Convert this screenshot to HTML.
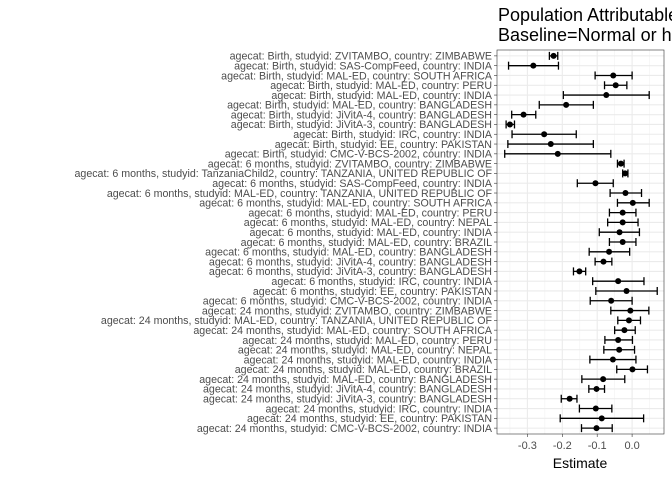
<!DOCTYPE html>
<html><head><meta charset="utf-8"><style>
html,body{margin:0;padding:0;background:#fff;}
svg{display:block;font-family:"Liberation Sans",Arial,sans-serif;}
</style></head><body>
<svg id="chart" width="672" height="480" viewBox="0 0 672 480">
<text x="498" y="21" font-size="18" fill="#000">Population Attributable Fraction</text>
<text x="498" y="41" font-size="18" fill="#000">Baseline=Normal or high birth weight</text>
<rect x="497" y="50" width="167" height="384" fill="#fff"/>
<g id="grid"></g><g id="marks"></g><g id="yaxis"></g><g id="xaxis"></g>
<rect x="497" y="50" width="167" height="384" fill="none" stroke="#333" stroke-width="0.6"/>
<text x="580" y="468" font-size="14" text-anchor="middle" fill="#000">Estimate</text>
</svg>
<script>
const labels=[
"agecat: Birth, studyid: ZVITAMBO, country: ZIMBABWE",
"agecat: Birth, studyid: SAS-CompFeed, country: INDIA",
"agecat: Birth, studyid: MAL-ED, country: SOUTH AFRICA",
"agecat: Birth, studyid: MAL-ED, country: PERU",
"agecat: Birth, studyid: MAL-ED, country: INDIA",
"agecat: Birth, studyid: MAL-ED, country: BANGLADESH",
"agecat: Birth, studyid: JiVitA-4, country: BANGLADESH",
"agecat: Birth, studyid: JiVitA-3, country: BANGLADESH",
"agecat: Birth, studyid: IRC, country: INDIA",
"agecat: Birth, studyid: EE, country: PAKISTAN",
"agecat: Birth, studyid: CMC-V-BCS-2002, country: INDIA",
"agecat: 6 months, studyid: ZVITAMBO, country: ZIMBABWE",
"agecat: 6 months, studyid: TanzaniaChild2, country: TANZANIA, UNITED REPUBLIC OF",
"agecat: 6 months, studyid: SAS-CompFeed, country: INDIA",
"agecat: 6 months, studyid: MAL-ED, country: TANZANIA, UNITED REPUBLIC OF",
"agecat: 6 months, studyid: MAL-ED, country: SOUTH AFRICA",
"agecat: 6 months, studyid: MAL-ED, country: PERU",
"agecat: 6 months, studyid: MAL-ED, country: NEPAL",
"agecat: 6 months, studyid: MAL-ED, country: INDIA",
"agecat: 6 months, studyid: MAL-ED, country: BRAZIL",
"agecat: 6 months, studyid: MAL-ED, country: BANGLADESH",
"agecat: 6 months, studyid: JiVitA-4, country: BANGLADESH",
"agecat: 6 months, studyid: JiVitA-3, country: BANGLADESH",
"agecat: 6 months, studyid: IRC, country: INDIA",
"agecat: 6 months, studyid: EE, country: PAKISTAN",
"agecat: 6 months, studyid: CMC-V-BCS-2002, country: INDIA",
"agecat: 24 months, studyid: ZVITAMBO, country: ZIMBABWE",
"agecat: 24 months, studyid: MAL-ED, country: TANZANIA, UNITED REPUBLIC OF",
"agecat: 24 months, studyid: MAL-ED, country: SOUTH AFRICA",
"agecat: 24 months, studyid: MAL-ED, country: PERU",
"agecat: 24 months, studyid: MAL-ED, country: NEPAL",
"agecat: 24 months, studyid: MAL-ED, country: INDIA",
"agecat: 24 months, studyid: MAL-ED, country: BRAZIL",
"agecat: 24 months, studyid: MAL-ED, country: BANGLADESH",
"agecat: 24 months, studyid: JiVitA-4, country: BANGLADESH",
"agecat: 24 months, studyid: JiVitA-3, country: BANGLADESH",
"agecat: 24 months, studyid: IRC, country: INDIA",
"agecat: 24 months, studyid: EE, country: PAKISTAN",
"agecat: 24 months, studyid: CMC-V-BCS-2002, country: INDIA"];
const est=[-0.225,-0.283,-0.054,-0.047,-0.074,-0.189,-0.311,-0.350,-0.252,-0.233,-0.213,
-0.032,-0.020,-0.105,-0.019,0.002,-0.027,-0.027,-0.036,-0.027,-0.066,-0.082,-0.151,-0.040,-0.016,-0.060,
-0.005,-0.009,-0.022,-0.040,-0.037,-0.055,0.001,-0.083,-0.102,-0.179,-0.104,-0.087,-0.102];
const lower=[-0.237,-0.354,-0.106,-0.079,-0.197,-0.266,-0.345,-0.361,-0.344,-0.356,-0.365,
-0.042,-0.027,-0.157,-0.063,-0.042,-0.065,-0.070,-0.094,-0.065,-0.123,-0.106,-0.168,-0.113,-0.104,-0.120,
-0.061,-0.041,-0.050,-0.078,-0.081,-0.121,-0.044,-0.144,-0.124,-0.203,-0.151,-0.206,-0.145];
const upper=[-0.213,-0.211,0.000,-0.015,0.049,-0.111,-0.276,-0.337,-0.160,-0.111,-0.061,
-0.023,-0.012,-0.054,0.027,0.049,0.011,0.017,0.021,0.011,-0.007,-0.058,-0.133,0.034,0.072,0.000,
0.048,0.024,0.009,0.001,0.007,0.011,0.044,-0.021,-0.079,-0.158,-0.058,0.033,-0.057];
const xTicks=[-0.3,-0.2,-0.1,0.0];
const xTickLabels=["-0.3","-0.2","-0.1","0.0"];
const xMinor=[-0.35,-0.25,-0.15,-0.05,0.05];

const NS="http://www.w3.org/2000/svg";
const PL=497,PR=664,PT=50,PB=434;
const xMin=-0.3871,xMax=0.0914;
const xs=v=>PL+(v-xMin)/(xMax-xMin)*(PR-PL);
const n=labels.length;
const step=(PB-PT)/(n-1+1.2);
const ys=i=>PT+step*0.6+i*step;
function mk(tag,attrs,parent){const e=document.createElementNS(NS,tag);for(const k in attrs)e.setAttribute(k,attrs[k]);parent.appendChild(e);return e;}
const grid=document.getElementById('grid'),marks=document.getElementById('marks'),ya=document.getElementById('yaxis'),xa=document.getElementById('xaxis');
xMinor.forEach(v=>{const l=mk('line',{x1:xs(v),x2:xs(v),y1:PT,y2:PB,stroke:'#f2f2f2','stroke-width':0.6},grid);

});
xTicks.forEach((v,i)=>{const l=mk('line',{x1:xs(v),x2:xs(v),y1:PT,y2:PB,stroke:'#ebebeb','stroke-width':1.1},grid);


const t=mk('line',{x1:xs(v),x2:xs(v),y1:PB,y2:PB+3,stroke:'#333','stroke-width':0.6},xa);


const tx=mk('text',{x:xs(v),y:PB+15,'font-size':11,'text-anchor':'middle',fill:'#4d4d4d'},xa);
tx.textContent=xTickLabels[i];

});
labels.forEach((lab,i)=>{const y=ys(i);
const g=mk('line',{x1:PL,x2:PR,y1:y,y2:y,stroke:'#ebebeb','stroke-width':1.1},grid);


const t=mk('line',{x1:PL-3,x2:PL,y1:y,y2:y,stroke:'#333','stroke-width':0.6},ya);


const tx=mk('text',{x:PL-5,y:y+3.8,'font-size':10.65,'text-anchor':'end',fill:'#4d4d4d'},ya);
tx.textContent=lab;


const gg=mk('g',{},marks);


const x1=xs(lower[i]),x2=xs(upper[i]);
mk('line',{x1:x1,x2:x2,y1:y,y2:y,stroke:'#000','stroke-width':1.3},gg);
mk('line',{x1:x1,x2:x1,y1:y-4,y2:y+4,stroke:'#000','stroke-width':1.3},gg);
mk('line',{x1:x2,x2:x2,y1:y-4,y2:y+4,stroke:'#000','stroke-width':1.3},gg);
const c=mk('circle',{cx:xs(est[i]),cy:y,r:3,fill:'#000'},gg);

});
</script>
</body></html>
